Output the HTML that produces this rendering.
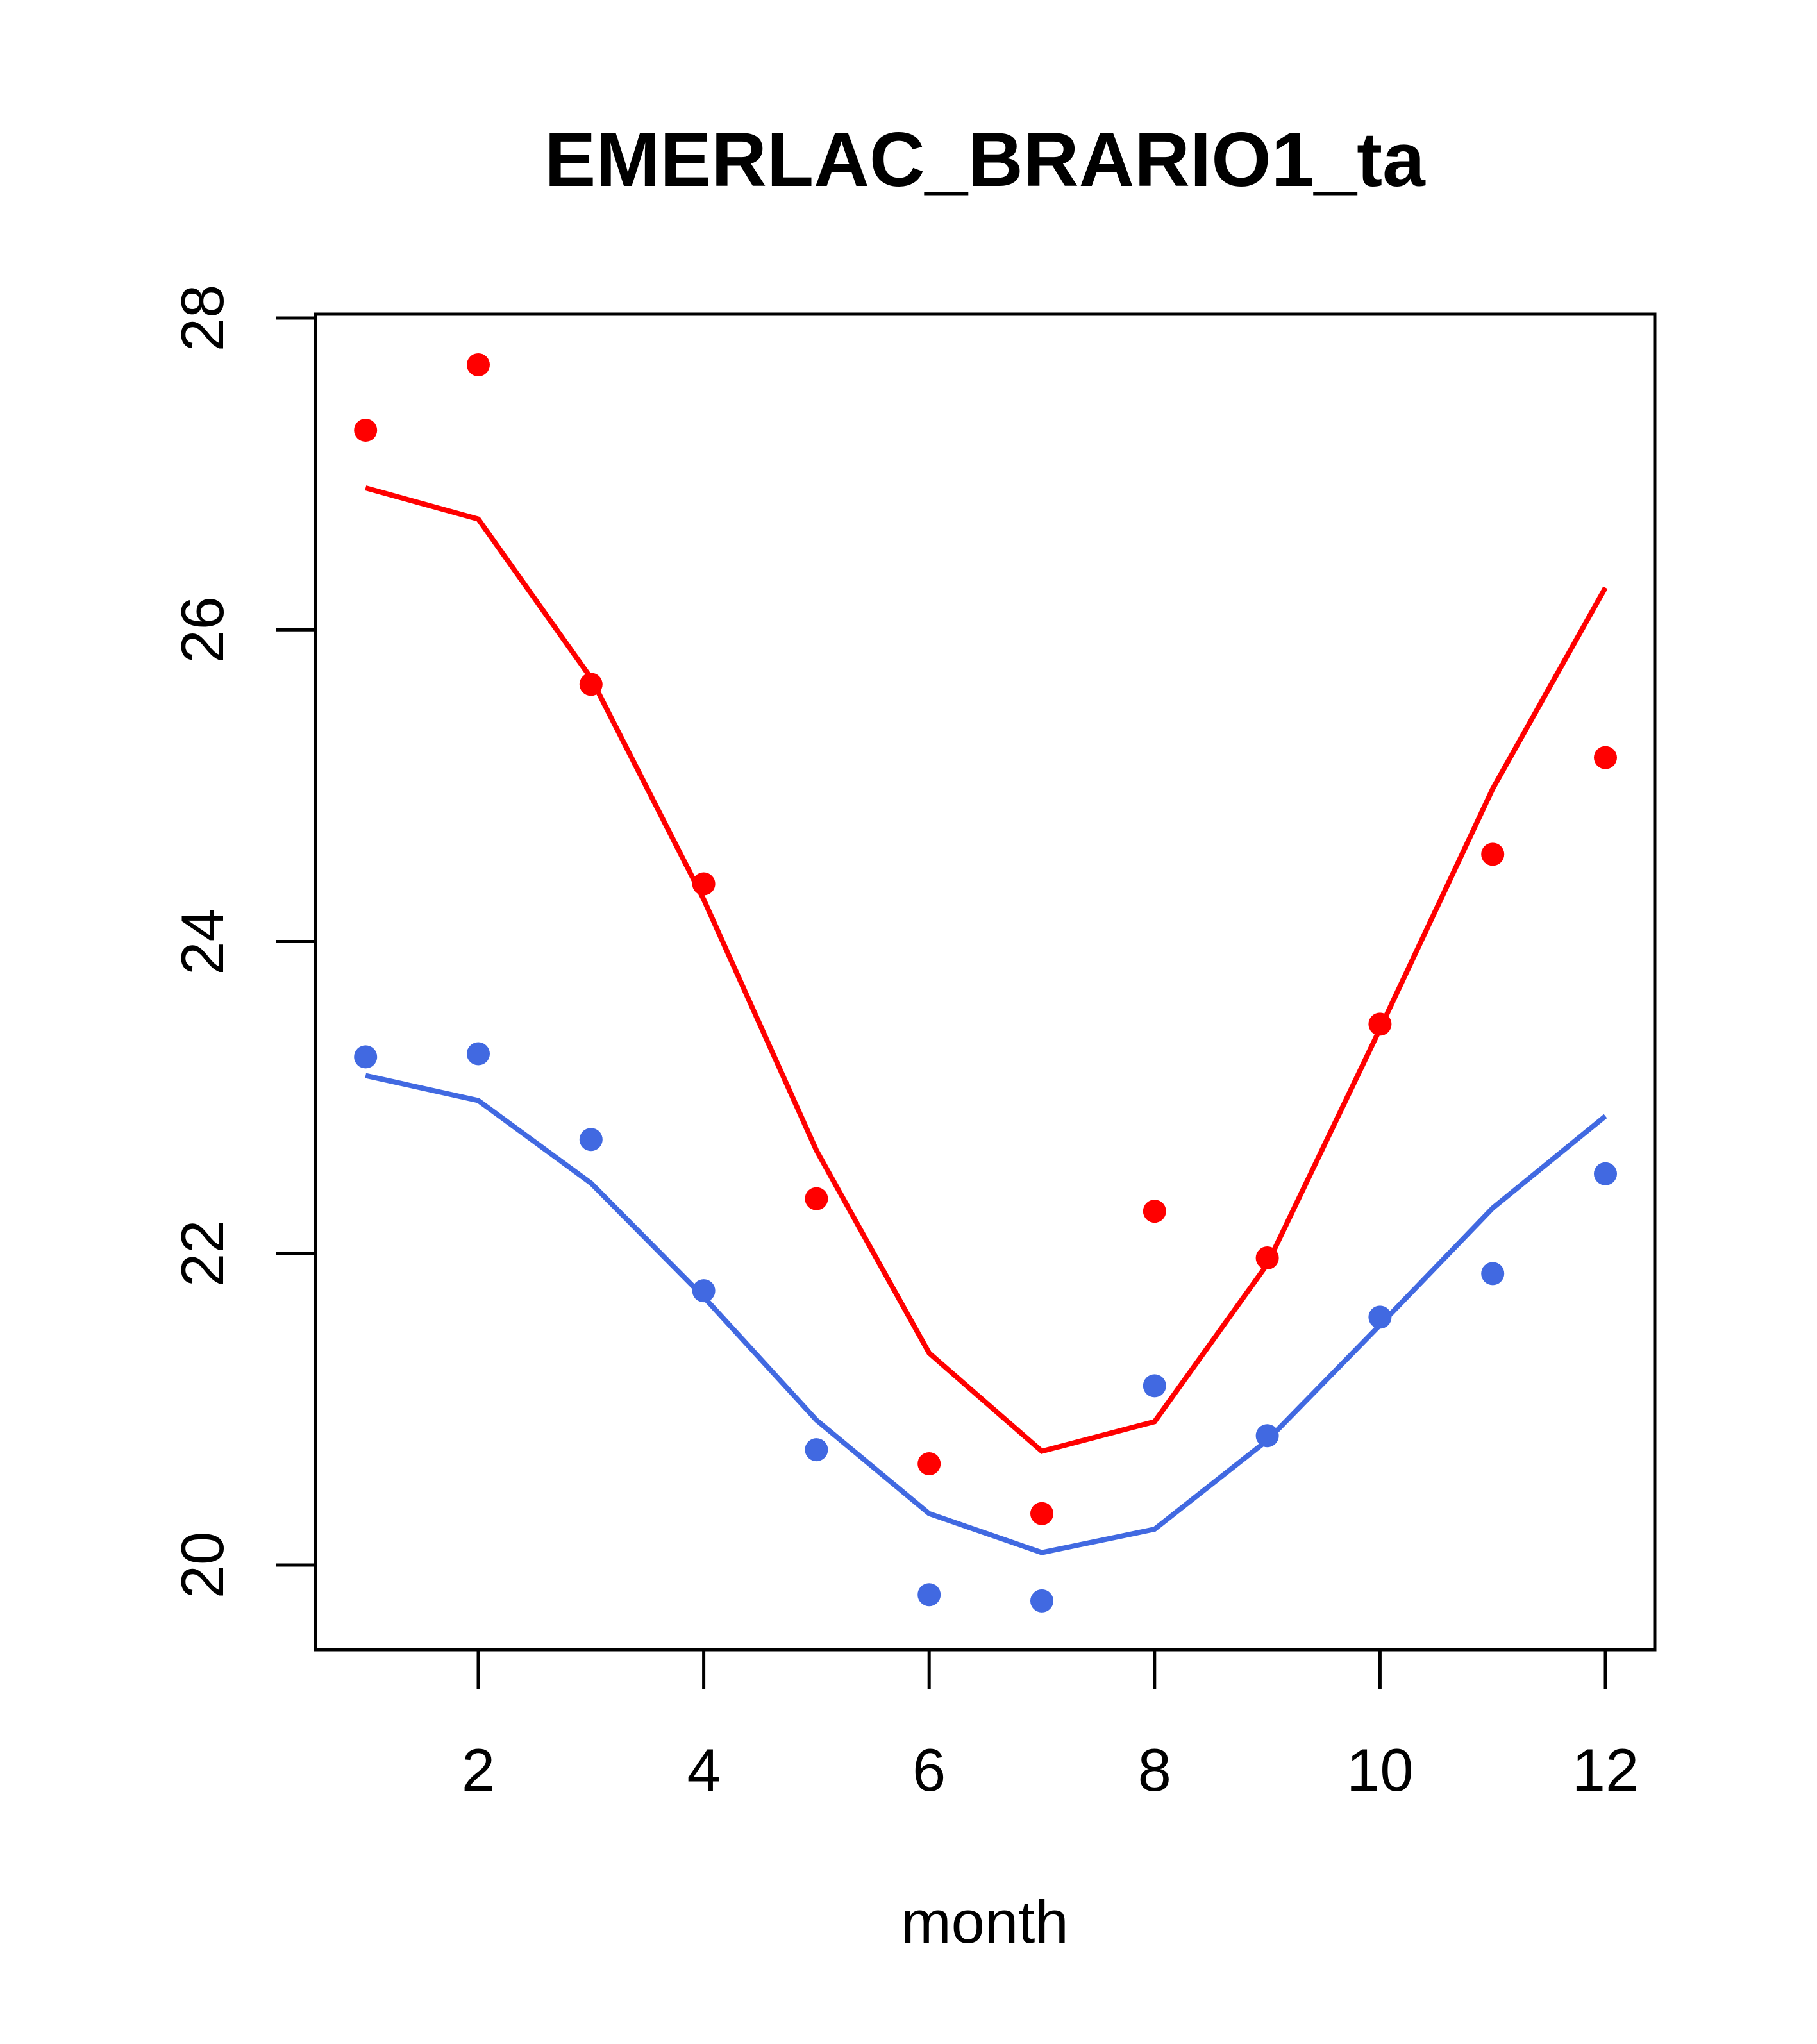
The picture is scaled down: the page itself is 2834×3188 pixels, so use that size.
<!DOCTYPE html>
<html><head><meta charset="utf-8"><style>
html,body{margin:0;padding:0;background:#fff;}
svg{display:block;font-family:"Liberation Sans",Arial,sans-serif;}
</style></head><body>
<svg id="chart" width="2834" height="3188" viewBox="0 0 2834 3188" xmlns="http://www.w3.org/2000/svg">
<text x="1536" y="290" font-size="120" font-weight="bold" text-anchor="middle">EMERLAC_BRARIO1_ta</text>
<rect x="492" y="490" width="2089" height="2083" fill="none" stroke="#000" stroke-width="5"/>
<g id="axes"></g>
<g id="series"></g>
<text x="1536" y="3030" font-size="94" text-anchor="middle">month</text>
</svg>
<script>
const months=[1,2,3,4,5,6,7,8,9,10,11,12];
const redPoints=[27.28,27.70,25.65,24.37,22.35,20.65,20.33,22.27,21.97,23.47,24.56,25.18];
const redLine=[26.91,26.71,25.69,24.27,22.66,21.36,20.73,20.92,21.93,23.44,24.98,26.27];
const bluePoints=[23.26,23.28,22.73,21.76,20.74,19.81,19.77,21.15,20.83,21.59,21.87,22.51];
const blueLine=[23.14,22.98,22.45,21.72,20.93,20.33,20.08,20.23,20.80,21.54,22.29,22.88];
const xTicks=[2,4,6,8,10,12];
const yTicks=[20,22,24,26,28];
const NS="http://www.w3.org/2000/svg";
function xs(v){return 746+(v-2)*(2504-746)/10;}
function ys(v){return 2441-(v-20)*(2441-496)/8;}
const axes=document.getElementById('axes');
const ser=document.getElementById('series');
function mk(tag,attrs,parent){const e=document.createElementNS(NS,tag);for(const k in attrs)e.setAttribute(k,attrs[k]);parent.appendChild(e);return e;}
xTicks.forEach(t=>{
  const l=mk('line',{x1:xs(t),x2:xs(t),y1:2573,y2:2634,stroke:'#000','stroke-width':5},axes);
  
  
  const tx=mk('text',{x:xs(t),y:2793,'font-size':94,'text-anchor':'middle'},axes);
  tx.textContent=t;
  
  
});
yTicks.forEach(t=>{
  const l=mk('line',{x1:431,x2:492,y1:ys(t),y2:ys(t),stroke:'#000','stroke-width':5},axes);
  
  
  const tx=mk('text',{x:0,y:0,'font-size':94,'text-anchor':'middle',transform:`translate(348,${ys(t)}) rotate(-90)`},axes);
  tx.textContent=t;
  
  
});
function line(vals,color,name){
  const p=mk('polyline',{points:vals.map((v,i)=>xs(months[i])+','+ys(v)).join(' '),fill:'none',stroke:color,'stroke-width':8},ser);
  
  
}
function pts(vals,color,name){
  vals.forEach((v,i)=>{
    const c=mk('circle',{cx:xs(months[i]),cy:ys(v),r:18,fill:color},ser);
    
    
  });
}
line(redLine,'#ff0000','red-line');
line(blueLine,'#4169e1','blue-line');
pts(redPoints,'#ff0000','red-point');
pts(bluePoints,'#4169e1','blue-point');
</script>
</body></html>
